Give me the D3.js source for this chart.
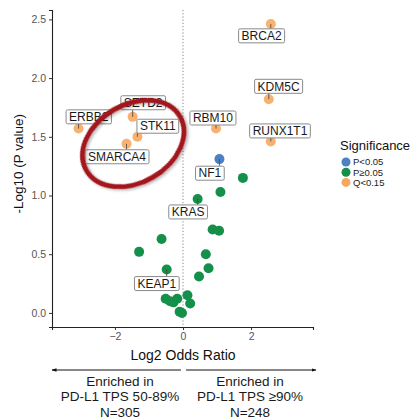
<!DOCTYPE html>
<html>
<head>
<meta charset="utf-8">
<script src="https://cdn.jsdelivr.net/npm/d3@7"></script>
<style>
  html, body { margin: 0; padding: 0; background: #fff; }
  svg { display: block; font-family: "Liberation Sans", Arial, sans-serif; }
</style>
</head>
<body>
<svg id="chart" width="414" height="420"></svg>
<script>
// Gene-level enrichment: log2 odds ratio vs -log10 p value
const genes      = ["ERBB2", "SETD2", "STK11", "SMARCA4", "BRCA2", "KDM5C", "RBM10", "RUNX1T1", "NF1", "KRAS", "KEAP1",
                    "", "", "", "", "", "", "", "", "", "", "", "", "", "", "", "", ""];
const log2OR     = [-3.07, -1.48, -1.34, -1.66, 2.58, 2.52, 0.97, 2.58, 1.07, 0.43, -0.48,
                    1.76, 1.10, 0.87, 1.06, 0.67, 0.75, 0.47, -0.63, -1.29, -0.51, -0.38, -0.28, -0.17, 0.13, 0.21, -0.10, -0.03];
const negLog10P  = [1.57, 1.67, 1.50, 1.44, 2.46, 1.82, 1.57, 1.46, 1.31, 0.97, 0.37,
                    1.15, 1.03, 0.71, 0.70, 0.50, 0.38, 0.31, 0.63, 0.52, 0.12, 0.10, 0.09, 0.12, 0.15, 0.08, 0.01, 0.00];
const groups     = ["Q<0.15", "Q<0.15", "Q<0.15", "Q<0.15", "Q<0.15", "Q<0.15", "Q<0.15", "Q<0.15", "P<0.05", "P≥0.05", "P≥0.05",
                    "P≥0.05", "P≥0.05", "P≥0.05", "P≥0.05", "P≥0.05", "P≥0.05", "P≥0.05", "P≥0.05", "P≥0.05", "P≥0.05",
                    "P≥0.05", "P≥0.05", "P≥0.05", "P≥0.05", "P≥0.05", "P≥0.05", "P≥0.05"];
// label box centres (x in log2 OR, y in -log10 p units), repelled away from points
const labelX     = [-2.77, -1.17, -0.74, -1.94, 2.31, 2.81, 0.88, 2.85, 0.79, 0.15, -0.77];
const labelY     = [1.67, 1.79, 1.59, 1.33, 2.36, 1.93, 1.66, 1.55, 1.19, 0.86, 0.25];

const legendTitle = "Significance";
const legendKeys  = ["P<0.05", "P≥0.05", "Q<0.15"];
const legendColors = ["#4f80c2", "#15904a", "#f6a862"];

const xTicks = [-2, 0, 2];
const yTicks = [0, 0.5, 1, 1.5, 2, 2.5];
const xTitle = "Log2 Odds Ratio";
const yTitle = "-Log10 (P value)";
const leftNote  = ["Enriched in", "PD-L1 TPS 50-89%", "N=305"];
const rightNote = ["Enriched in", "PD-L1 TPS ≥90%", "N=248"];
const highlighted = ["SETD2", "STK11", "SMARCA4"];

const points = genes.map((g, i) => ({ gene: g, x: log2OR[i], y: negLog10P[i], group: groups[i] }));

const svg = d3.select("#chart");
const x = d3.scaleLinear().domain([-3.85, 3.82]).range([52, 313]);
const y = d3.scaleLinear().domain([-0.12, 2.58]).range([327, 10]);
const color = d3.scaleOrdinal().domain(legendKeys).range(legendColors);

// axes
const xAxis = svg.append("g").attr("transform", `translate(0,${y.range()[0]})`)
  .call(d3.axisBottom(x).tickValues(xTicks).tickSize(3).tickPadding(3).tickFormat(d3.format("d")));
const yAxis = svg.append("g").attr("transform", `translate(${x.range()[0]},0)`)
  .call(d3.axisLeft(y).tickValues(yTicks).tickSize(3).tickPadding(3).tickFormat(d3.format(".1f")));
[xAxis, yAxis].forEach(a => {
  a.select(".domain").attr("stroke", "#222").attr("stroke-width", 1.1);
  a.selectAll(".tick line").attr("stroke", "#333");
  a.selectAll(".tick text").attr("fill", "#555").attr("font-size", 10.5)
    .attr("font-family", "'Liberation Sans', Arial, sans-serif");
});

// zero reference line
svg.append("line")
  .attr("x1", x(0)).attr("x2", x(0)).attr("y1", y.range()[1]).attr("y2", y.range()[0])
  .attr("stroke", "#888").attr("stroke-width", 1).attr("stroke-dasharray", "1.2,2");

// axis titles
svg.append("text").attr("x", x(0)).attr("y", 360).attr("text-anchor", "middle")
  .attr("font-size", 14).attr("fill", "#111").text(xTitle);
svg.append("text").attr("transform", `translate(23,${y(1.27)}) rotate(-90)`)
  .attr("text-anchor", "middle").attr("font-size", 13.5).attr("fill", "#111").text(yTitle);

// points
svg.append("g").selectAll("circle").data(points).join("circle")
  .attr("cx", d => x(d.x)).attr("cy", d => y(d.y)).attr("r", 5)
  .attr("fill", d => color(d.group))
  .attr("fill-opacity", d => d.group === "Q<0.15" ? 0.9 : 1);

// labels with leader segments
const labelled = points.filter(d => d.gene !== "").map((d, i) => ({ ...d, lx: x(labelX[i]), ly: y(labelY[i]) }));
const lab = svg.append("g").attr("font-size", 12);
labelled.forEach(d => {
  const t = lab.append("text").attr("x", d.lx).attr("y", d.ly + 4.2)
    .attr("text-anchor", "middle").attr("fill", "#1a1a1a").text(d.gene);
  const w = t.node().getComputedTextLength() + 6, h = 14;
  const bx = d.lx - w / 2, by = d.ly - h / 2;
  // leader from point to nearest box edge
  const px = x(d.x), py = y(d.y);
  const cx = Math.max(bx, Math.min(px, bx + w)), cy = Math.max(by, Math.min(py, by + h));
  if (Math.hypot(px - cx, py - cy) > 3) {
    lab.insert("line", "text").attr("x1", px).attr("y1", py).attr("x2", cx).attr("y2", cy)
      .attr("stroke", "#444").attr("stroke-width", 0.8);
  }
  lab.insert("rect", () => t.node()).attr("x", bx).attr("y", by).attr("width", w).attr("height", h)
    .attr("rx", 1.5).attr("fill", "#fff").attr("stroke", "#8a8a8a").attr("stroke-width", 1);
});

// highlight ring around the left-side tumour suppressors
const hl = points.filter(d => highlighted.includes(d.gene));
const hx = d3.mean(hl, d => x(d.x)) + 1, hy = d3.mean(hl, d => y(d.y)) + 11;
const defs = svg.append("defs");
defs.append("filter").attr("id", "ringShadow").attr("x", "-20%").attr("y", "-20%").attr("width", "140%").attr("height", "140%")
  .append("feDropShadow").attr("dx", 1).attr("dy", 2).attr("stdDeviation", 1.5)
  .attr("flood-color", "#000").attr("flood-opacity", 0.3);
svg.append("ellipse")
  .attr("cx", 0).attr("cy", 0).attr("rx", 54).attr("ry", 39)
  .attr("transform", `translate(${hx},${hy}) rotate(-30)`)
  .attr("fill", "none").attr("stroke", "#a3141c").attr("stroke-width", 4.8)
  .attr("filter", "url(#ringShadow)");

// legend
const lg = svg.append("g").attr("transform", "translate(340,0)");
lg.append("text").attr("x", 0).attr("y", 150).attr("font-size", 13).attr("fill", "#111").text(legendTitle);
legendKeys.forEach((k, i) => {
  const cy = 162 + i * 10.2;
  lg.append("circle").attr("cx", 6).attr("cy", cy).attr("r", 4.5).attr("fill", color(k));
  lg.append("text").attr("x", 13).attr("y", cy + 3.4).attr("font-size", 9.5).attr("fill", "#222").text(k);
});

// direction arrows and group notes
defs.append("marker").attr("id", "arrow").attr("viewBox", "0 0 10 10").attr("refX", 9).attr("refY", 5)
  .attr("markerWidth", 5).attr("markerHeight", 5).attr("orient", "auto-start-reverse")
  .append("path").attr("d", "M0,1.5 L10,5 L0,8.5 Z").attr("fill", "#111");
svg.append("line").attr("x1", x(-0.06)).attr("x2", 52).attr("y1", 370).attr("y2", 370)
  .attr("stroke", "#111").attr("stroke-width", 1).attr("marker-end", "url(#arrow)");
svg.append("line").attr("x1", x(0.09)).attr("x2", 316).attr("y1", 370).attr("y2", 370)
  .attr("stroke", "#111").attr("stroke-width", 1).attr("marker-end", "url(#arrow)");
[[leftNote, 120], [rightNote, 250]].forEach(([lines, cx]) => {
  lines.forEach((s, i) => {
    svg.append("text").attr("x", cx).attr("y", 385.5 + i * 15.8).attr("text-anchor", "middle")
      .attr("font-size", 13.5).attr("fill", "#1a1a1a").text(s);
  });
});
</script>
</body>
</html>
